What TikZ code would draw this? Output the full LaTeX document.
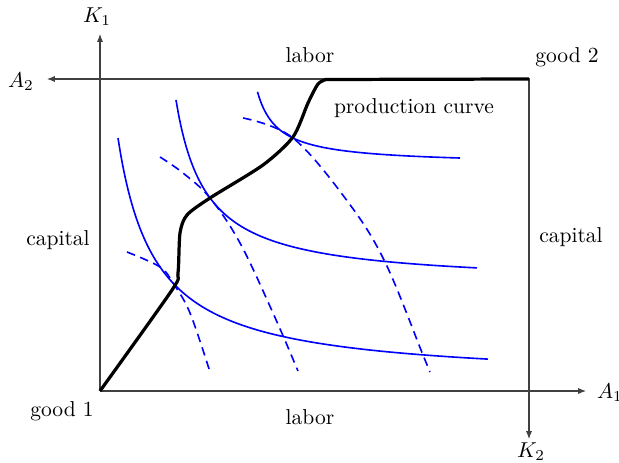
\documentclass[tikz,border=0pt]{standalone}
\usetikzlibrary{arrows.meta}
\begin{document}
\begin{tikzpicture}[x=0.464pt,y=-0.464pt,
  axisline/.style={line width=0.5pt,draw=black!75},
  axisarrow/.style={axisline,-{Latex[length=3.6pt,width=2.8pt]}},
  isoquant/.style={blue,line width=0.75pt},
  isocost/.style={blue,line width=0.75pt,dash pattern=on 4pt off 2.6pt},
  prodcurve/.style={black,line width=1.5pt,line join=round},
  lbl/.style={inner sep=1pt}]
\useasboundingbox (0,0) rectangle (619,463);
% frame corners and arrow ends
\coordinate (O) at (100,391);
\coordinate (T) at (529,79);
\coordinate (BR) at (529,391);
\coordinate (TL) at (100,79);
\coordinate (A1end) at (586,391);
\coordinate (K1end) at (100,34);
\coordinate (A2end) at (47,79);
\coordinate (K2end) at (529,439);
% axes
\draw[axisarrow] (O) -- (A1end);
\draw[axisarrow] (O) -- (K1end);
\draw[axisarrow] (T) -- (A2end);
\draw[axisarrow] (T) -- (K2end);
\draw[axisline] (TL) -- (T) -- (BR) -- (O);
% labels
\node[lbl] (k1) at (97,17) {$K_1$};
\node[lbl] (a2) at (21,82) {$A_2$};
\node[lbl] (a1) at (610,393) {$A_1$};
\node[lbl] (k2) at (531,452) {$K_2$};
\node[lbl] (g2) at (567,57) {good 2};
\node[lbl] (g1) at (62,411) {good 1};
\node[lbl] (labt) at (310,55) {labor};
\node[lbl] (labb) at (310,417) {labor};
\node[lbl] (capl) at (58,240) {capital};
\node[lbl] (capr) at (571,237) {capital};
\node[lbl] (pc) at (414,108) {production curve};
% isoquants (solid), hyperbolas
\draw[isoquant] plot[domain=118:488,samples=120,smooth] (\x,{381.4-9077/(\x-80.7)});
\draw[isoquant] plot[domain=176:477,samples=120,smooth] (\x,{284.7-5561/(\x-145.9)});
\draw[isoquant] plot[domain=257.5:460,samples=100,smooth] (\x,{164.7-1493/(\x-237.0)});
% dashed curves
\draw[isocost] plot[smooth,tension=0.6] coordinates
  {(127,252) (160,267) (173,283) (190,313) (210,372)};
\draw[isocost] plot[smooth,tension=0.6] coordinates
  {(160,157) (183,173) (210,198) (240,243) (273,313) (298,371)};
\draw[isocost] plot[smooth,tension=0.6] coordinates
  {(243,118) (293,138) (348,202) (385,262) (423,355) (430,372)};
% production curve
\draw[prodcurve] plot[smooth,tension=0.45] coordinates
  {(O) (172,290) (178,273) (180,233) (187,215) (210,198) (263,165) (293,137) (308,103) (318,84) (326,79.5)}
  -- (T);
\end{tikzpicture}
\end{document}
